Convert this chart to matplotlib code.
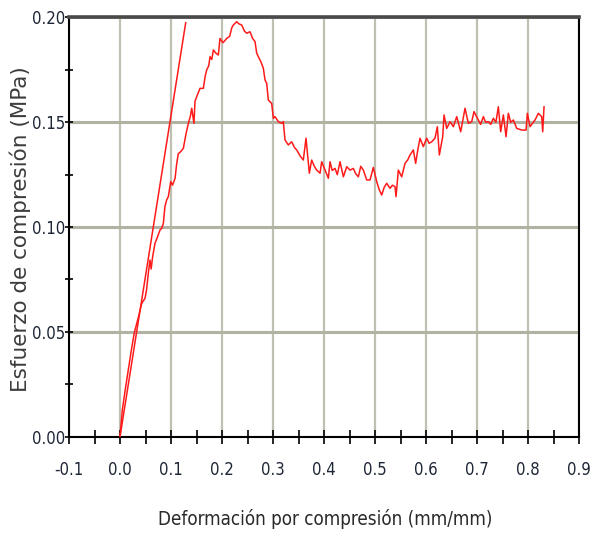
import matplotlib
matplotlib.use("Agg")
import matplotlib.pyplot as plt
from matplotlib import font_manager
from matplotlib.ticker import MultipleLocator

# curva esfuerzo-deformacion (lectura del ensayo)
strain = [0.0000, 0.0045, 0.0100, 0.0163, 0.0220, 0.0280, 0.0360, 0.0425, 0.0490, 0.0520,
          0.0555, 0.0588, 0.0610, 0.0640, 0.0686, 0.0730, 0.0784, 0.0818, 0.0850, 0.0880,
          0.0915, 0.0947, 0.0994, 0.1030, 0.1080, 0.1110, 0.1143, 0.1190, 0.1242, 0.1290,
          0.1340, 0.1380, 0.1406, 0.1450, 0.1470, 0.1503, 0.1569, 0.1634, 0.1670, 0.1700,
          0.1740, 0.1765, 0.1800, 0.1830, 0.1880, 0.1928, 0.1960, 0.2020, 0.2092, 0.2150,
          0.2190, 0.2222, 0.2288, 0.2330, 0.2386, 0.2440, 0.2484, 0.2549, 0.2600, 0.2647,
          0.2680, 0.2712, 0.2760, 0.2810, 0.2843, 0.2876, 0.2908, 0.2974, 0.3007, 0.3039,
          0.3104, 0.3170, 0.3202, 0.3235, 0.3300, 0.3366, 0.3420, 0.3464, 0.3530, 0.3594,
          0.3647, 0.3712, 0.3758, 0.3810, 0.3856, 0.3922, 0.3954, 0.4020, 0.4085, 0.4118,
          0.4160, 0.4216, 0.4260, 0.4314, 0.4379, 0.4445, 0.4510, 0.4575, 0.4620, 0.4673,
          0.4720, 0.4771, 0.4837, 0.4902, 0.4967, 0.5033, 0.5080, 0.5131, 0.5180, 0.5229,
          0.5294, 0.5340, 0.5392, 0.5412, 0.5457, 0.5523, 0.5588, 0.5640, 0.5686, 0.5751,
          0.5797, 0.5840, 0.5882, 0.5947, 0.6013, 0.6060, 0.6111, 0.6176, 0.6222, 0.6261,
          0.6327, 0.6353, 0.6406, 0.6471, 0.6536, 0.6602, 0.6680, 0.6765, 0.6830, 0.6896,
          0.6941, 0.7026, 0.7070, 0.7124, 0.7170, 0.7222, 0.7270, 0.7320, 0.7370, 0.7418,
          0.7464, 0.7516, 0.7569, 0.7614, 0.7660, 0.7712, 0.7778, 0.7876, 0.7961, 0.7987,
          0.8039, 0.8137, 0.8202, 0.8268, 0.8288, 0.8314]
stress = [0.0000, 0.0127, 0.0220, 0.0318, 0.0410, 0.0496, 0.0570, 0.0636, 0.0660, 0.0700,
          0.0780, 0.0843, 0.0800, 0.0859, 0.0923, 0.0950, 0.0986, 0.0994, 0.1018, 0.1097,
          0.1130, 0.1145, 0.1217, 0.1200, 0.1233, 0.1300, 0.1350, 0.1360, 0.1376, 0.1440,
          0.1495, 0.1530, 0.1567, 0.1495, 0.1600, 0.1622, 0.1662, 0.1662, 0.1720, 0.1750,
          0.1770, 0.1813, 0.1800, 0.1845, 0.1830, 0.1821, 0.1900, 0.1880, 0.1900, 0.1910,
          0.1950, 0.1964, 0.1980, 0.1970, 0.1964, 0.1935, 0.1925, 0.1932, 0.1900, 0.1885,
          0.1830, 0.1813, 0.1790, 0.1758, 0.1702, 0.1686, 0.1606, 0.1590, 0.1519, 0.1527,
          0.1503, 0.1495, 0.1503, 0.1416, 0.1392, 0.1407, 0.1380, 0.1368, 0.1340, 0.1320,
          0.1424, 0.1257, 0.1320, 0.1290, 0.1272, 0.1257, 0.1312, 0.1272, 0.1233, 0.1312,
          0.1270, 0.1280, 0.1250, 0.1312, 0.1240, 0.1288, 0.1272, 0.1280, 0.1255, 0.1240,
          0.1290, 0.1272, 0.1225, 0.1225, 0.1285, 0.1217, 0.1180, 0.1153, 0.1190, 0.1209,
          0.1185, 0.1200, 0.1193, 0.1145, 0.1272, 0.1240, 0.1304, 0.1320, 0.1344, 0.1368,
          0.1304, 0.1370, 0.1424, 0.1384, 0.1424, 0.1400, 0.1407, 0.1424, 0.1479, 0.1344,
          0.1431, 0.1535, 0.1471, 0.1503, 0.1479, 0.1527, 0.1455, 0.1567, 0.1495, 0.1503,
          0.1551, 0.1511, 0.1490, 0.1527, 0.1500, 0.1503, 0.1490, 0.1519, 0.1500, 0.1574,
          0.1455, 0.1535, 0.1431, 0.1543, 0.1500, 0.1511, 0.1471, 0.1463, 0.1463, 0.1543,
          0.1479, 0.1511, 0.1543, 0.1527, 0.1455, 0.1574]

# recta del modulo elastico
fit_strain = [0.0, 0.1288]
fit_stress = [0.0, 0.1975]

narrow = font_manager.FontProperties(family="DejaVu Sans", stretch="condensed", size=12)
narrow_lbl = font_manager.FontProperties(family="DejaVu Sans", stretch="condensed", size=13.5)

fig = plt.figure(figsize=(5.97, 5.40), dpi=100)
ax = fig.add_axes([0.1156, 0.1913, 0.8543, 0.7763])

ax.plot(strain, stress, color="#ff1a1a", lw=1.1, zorder=3)
ax.plot(fit_strain, fit_stress, color="#ff1a1a", lw=1.1, zorder=3)

ax.set_xlim(-0.1, 0.9)
ax.set_ylim(0.0, 0.2)
ax.xaxis.set_major_locator(MultipleLocator(0.1))
ax.xaxis.set_minor_locator(MultipleLocator(0.05))
ax.yaxis.set_major_locator(MultipleLocator(0.05))
ax.yaxis.set_minor_locator(MultipleLocator(0.025))
ax.xaxis.set_major_formatter(lambda v, p: f"{v:.1f}")
ax.yaxis.set_major_formatter(lambda v, p: f"{v:.2f}")

ax.xaxis.grid(True, which="major", color="#c0c0b2", lw=1.6, zorder=0)
ax.yaxis.grid(True, which="major", color="#b2b2a2", lw=2.2, zorder=0)
ax.set_axisbelow(True)

ax.tick_params(axis="both", which="both", direction="inout", color="black", width=1.2)
ax.tick_params(axis="x", which="both", length=9.5, pad=13, labelcolor="#1e2636")
ax.tick_params(axis="y", which="both", length=6, pad=0, labelcolor="#1e2636")
for lab in ax.get_xticklabels() + ax.get_yticklabels():
    lab.set_fontproperties(narrow)

for side in ("left", "bottom", "right"):
    ax.spines[side].set_color("black")
    ax.spines[side].set_linewidth(1.5)
ax.spines["top"].set_color("#4a4a4a")
ax.spines["top"].set_linewidth(2.6)

ax.set_xlabel("Deformación por compresión (mm/mm)", fontproperties=narrow_lbl, color="#2a2a2a")
ax.xaxis.set_label_coords(0.502, -0.196)
ax.xaxis.label.set_va("center")

ax.set_ylabel("Esfuerzo de compresión (MPa)", family="DejaVu Sans", fontsize=15.5,
              color="#3c3c3c")
ax.yaxis.set_label_coords(-0.096, 0.495)
ax.yaxis.label.set_va("center")

fig.savefig("out.png", dpi=100)
